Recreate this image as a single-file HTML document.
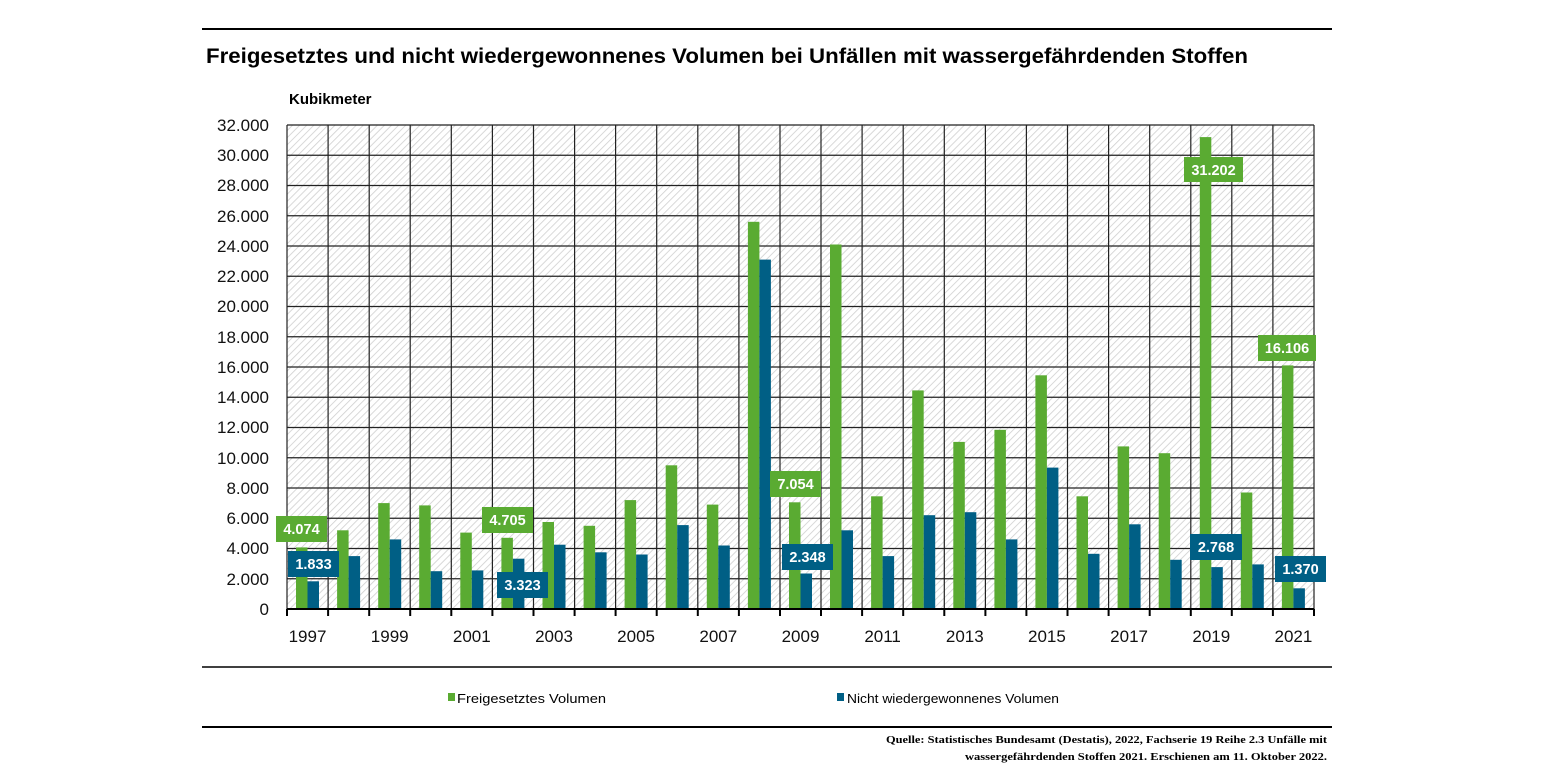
<!DOCTYPE html>
<html><head><meta charset="utf-8"><style>
body{margin:0;background:#fff;width:1545px;height:775px;overflow:hidden}
svg{font-family:"Liberation Sans",sans-serif}
</style></head><body>
<svg width="1545" height="775" viewBox="0 0 1545 775" xmlns="http://www.w3.org/2000/svg">
<defs>
<pattern id="h" patternUnits="userSpaceOnUse" width="5" height="5" patternTransform="rotate(45)">
<rect width="5" height="5" fill="#fff"/><line x1="0" y1="0" x2="0" y2="5" stroke="#cfcfcf" stroke-width="1.6"/>
</pattern>
</defs>
<line x1="202" y1="29" x2="1332" y2="29" stroke="#000" stroke-width="2"/>
<text x="206" y="63" font-size="21" font-weight="bold" textLength="1042" lengthAdjust="spacingAndGlyphs">Freigesetztes und nicht wiedergewonnenes Volumen bei Unfällen mit wassergefährdenden Stoffen</text>
<text x="289" y="104" font-size="15" font-weight="bold">Kubikmeter</text>
<rect x="287" y="125" width="1027" height="484" fill="url(#h)"/>
<g stroke="#222" stroke-width="1.2">
<line x1="287" y1="125" x2="1314" y2="125"/><line x1="287" y1="155.25" x2="1314" y2="155.25"/><line x1="287" y1="185.5" x2="1314" y2="185.5"/><line x1="287" y1="215.75" x2="1314" y2="215.75"/><line x1="287" y1="246" x2="1314" y2="246"/><line x1="287" y1="276.25" x2="1314" y2="276.25"/><line x1="287" y1="306.5" x2="1314" y2="306.5"/><line x1="287" y1="336.75" x2="1314" y2="336.75"/><line x1="287" y1="367" x2="1314" y2="367"/><line x1="287" y1="397.25" x2="1314" y2="397.25"/><line x1="287" y1="427.5" x2="1314" y2="427.5"/><line x1="287" y1="457.75" x2="1314" y2="457.75"/><line x1="287" y1="488" x2="1314" y2="488"/><line x1="287" y1="518.25" x2="1314" y2="518.25"/><line x1="287" y1="548.5" x2="1314" y2="548.5"/><line x1="287" y1="578.75" x2="1314" y2="578.75"/>
<line x1="287" y1="125" x2="287" y2="609"/><line x1="328.1" y1="125" x2="328.1" y2="609"/><line x1="369.2" y1="125" x2="369.2" y2="609"/><line x1="410.2" y1="125" x2="410.2" y2="609"/><line x1="451.3" y1="125" x2="451.3" y2="609"/><line x1="492.4" y1="125" x2="492.4" y2="609"/><line x1="533.5" y1="125" x2="533.5" y2="609"/><line x1="574.6" y1="125" x2="574.6" y2="609"/><line x1="615.6" y1="125" x2="615.6" y2="609"/><line x1="656.7" y1="125" x2="656.7" y2="609"/><line x1="697.8" y1="125" x2="697.8" y2="609"/><line x1="738.9" y1="125" x2="738.9" y2="609"/><line x1="780" y1="125" x2="780" y2="609"/><line x1="821" y1="125" x2="821" y2="609"/><line x1="862.1" y1="125" x2="862.1" y2="609"/><line x1="903.2" y1="125" x2="903.2" y2="609"/><line x1="944.3" y1="125" x2="944.3" y2="609"/><line x1="985.4" y1="125" x2="985.4" y2="609"/><line x1="1026.4" y1="125" x2="1026.4" y2="609"/><line x1="1067.5" y1="125" x2="1067.5" y2="609"/><line x1="1108.6" y1="125" x2="1108.6" y2="609"/><line x1="1149.7" y1="125" x2="1149.7" y2="609"/><line x1="1190.8" y1="125" x2="1190.8" y2="609"/><line x1="1231.8" y1="125" x2="1231.8" y2="609"/><line x1="1272.9" y1="125" x2="1272.9" y2="609"/><line x1="1314" y1="125" x2="1314" y2="609"/>
</g>
<g transform="translate(0,609) scale(1,-1)" fill="#5aab32">
<rect x="296" y="0" width="11.5" height="61.6"/><rect x="337.1" y="0" width="11.5" height="78.7"/><rect x="378.2" y="0" width="11.5" height="105.9"/><rect x="419.2" y="0" width="11.5" height="103.6"/><rect x="460.3" y="0" width="11.5" height="76.4"/><rect x="501.4" y="0" width="11.5" height="71.2"/><rect x="542.5" y="0" width="11.5" height="87"/><rect x="583.6" y="0" width="11.5" height="83.2"/><rect x="624.6" y="0" width="11.5" height="108.9"/><rect x="665.7" y="0" width="11.5" height="143.7"/><rect x="706.8" y="0" width="11.5" height="104.4"/><rect x="747.9" y="0" width="11.5" height="387.2"/><rect x="789" y="0" width="11.5" height="106.7"/><rect x="830" y="0" width="11.5" height="364.5"/><rect x="871.1" y="0" width="11.5" height="112.7"/><rect x="912.2" y="0" width="11.5" height="218.6"/><rect x="953.3" y="0" width="11.5" height="167.1"/><rect x="994.4" y="0" width="11.5" height="179.2"/><rect x="1035.4" y="0" width="11.5" height="233.7"/><rect x="1076.5" y="0" width="11.5" height="112.7"/><rect x="1117.6" y="0" width="11.5" height="162.6"/><rect x="1158.7" y="0" width="11.5" height="155.8"/><rect x="1199.8" y="0" width="11.5" height="471.9"/><rect x="1240.8" y="0" width="11.5" height="116.5"/><rect x="1281.9" y="0" width="11.5" height="243.6"/>
</g>
<g transform="translate(0,609) scale(1,-1)" fill="#005f85">
<rect x="307.5" y="0" width="11.5" height="27.7"/><rect x="348.6" y="0" width="11.5" height="52.9"/><rect x="389.7" y="0" width="11.5" height="69.6"/><rect x="430.7" y="0" width="11.5" height="37.8"/><rect x="471.8" y="0" width="11.5" height="38.6"/><rect x="512.9" y="0" width="11.5" height="50.3"/><rect x="554" y="0" width="11.5" height="64.3"/><rect x="595.1" y="0" width="11.5" height="56.7"/><rect x="636.1" y="0" width="11.5" height="54.5"/><rect x="677.2" y="0" width="11.5" height="83.9"/><rect x="718.3" y="0" width="11.5" height="63.5"/><rect x="759.4" y="0" width="11.5" height="349.4"/><rect x="800.5" y="0" width="11.5" height="35.5"/><rect x="841.5" y="0" width="11.5" height="78.7"/><rect x="882.6" y="0" width="11.5" height="52.9"/><rect x="923.7" y="0" width="11.5" height="93.8"/><rect x="964.8" y="0" width="11.5" height="96.8"/><rect x="1005.9" y="0" width="11.5" height="69.6"/><rect x="1046.9" y="0" width="11.5" height="141.4"/><rect x="1088" y="0" width="11.5" height="55.2"/><rect x="1129.1" y="0" width="11.5" height="84.7"/><rect x="1170.2" y="0" width="11.5" height="49.2"/><rect x="1211.3" y="0" width="11.5" height="41.9"/><rect x="1252.3" y="0" width="11.5" height="44.6"/><rect x="1293.4" y="0" width="11.5" height="20.7"/>
</g>
<line x1="287" y1="609" x2="1314" y2="609" stroke="#000" stroke-width="2"/>
<g stroke="#000" stroke-width="2">
<line x1="287" y1="609" x2="287" y2="616"/><line x1="328.1" y1="609" x2="328.1" y2="616"/><line x1="369.2" y1="609" x2="369.2" y2="616"/><line x1="410.2" y1="609" x2="410.2" y2="616"/><line x1="451.3" y1="609" x2="451.3" y2="616"/><line x1="492.4" y1="609" x2="492.4" y2="616"/><line x1="533.5" y1="609" x2="533.5" y2="616"/><line x1="574.6" y1="609" x2="574.6" y2="616"/><line x1="615.6" y1="609" x2="615.6" y2="616"/><line x1="656.7" y1="609" x2="656.7" y2="616"/><line x1="697.8" y1="609" x2="697.8" y2="616"/><line x1="738.9" y1="609" x2="738.9" y2="616"/><line x1="780" y1="609" x2="780" y2="616"/><line x1="821" y1="609" x2="821" y2="616"/><line x1="862.1" y1="609" x2="862.1" y2="616"/><line x1="903.2" y1="609" x2="903.2" y2="616"/><line x1="944.3" y1="609" x2="944.3" y2="616"/><line x1="985.4" y1="609" x2="985.4" y2="616"/><line x1="1026.4" y1="609" x2="1026.4" y2="616"/><line x1="1067.5" y1="609" x2="1067.5" y2="616"/><line x1="1108.6" y1="609" x2="1108.6" y2="616"/><line x1="1149.7" y1="609" x2="1149.7" y2="616"/><line x1="1190.8" y1="609" x2="1190.8" y2="616"/><line x1="1231.8" y1="609" x2="1231.8" y2="616"/><line x1="1272.9" y1="609" x2="1272.9" y2="616"/><line x1="1314" y1="609" x2="1314" y2="616"/>
</g>
<g font-size="17" text-anchor="end" fill="#111">
<text x="269" y="131">32.000</text><text x="269" y="161">30.000</text><text x="269" y="191">28.000</text><text x="269" y="222">26.000</text><text x="269" y="252">24.000</text><text x="269" y="282">22.000</text><text x="269" y="312">20.000</text><text x="269" y="343">18.000</text><text x="269" y="373">16.000</text><text x="269" y="403">14.000</text><text x="269" y="433">12.000</text><text x="269" y="464">10.000</text><text x="269" y="494">8.000</text><text x="269" y="524">6.000</text><text x="269" y="554">4.000</text><text x="269" y="585">2.000</text><text x="269" y="615">0</text>
</g>
<g font-size="17" text-anchor="middle" fill="#111">
<text x="307.5" y="642">1997</text><text x="389.7" y="642">1999</text><text x="471.8" y="642">2001</text><text x="554" y="642">2003</text><text x="636.1" y="642">2005</text><text x="718.3" y="642">2007</text><text x="800.5" y="642">2009</text><text x="882.6" y="642">2011</text><text x="964.8" y="642">2013</text><text x="1046.9" y="642">2015</text><text x="1129.1" y="642">2017</text><text x="1211.3" y="642">2019</text><text x="1293.4" y="642">2021</text>
</g>
<g font-size="14.5" font-weight="bold" fill="#fff" text-anchor="middle">
<rect x="276" y="516" width="51" height="26" fill="#5aab32"/><text x="301.5" y="534">4.074</text>
<rect x="288" y="551" width="51" height="26" fill="#005f85"/><text x="313.5" y="569">1.833</text>
<rect x="482" y="507" width="51" height="26" fill="#5aab32"/><text x="507.5" y="525">4.705</text>
<rect x="497" y="572" width="51" height="26" fill="#005f85"/><text x="522.5" y="590">3.323</text>
<rect x="770" y="471" width="51" height="26" fill="#5aab32"/><text x="795.5" y="489">7.054</text>
<rect x="782" y="544" width="51" height="26" fill="#005f85"/><text x="807.5" y="562">2.348</text>
<rect x="1184" y="157" width="59" height="25" fill="#5aab32"/><text x="1213.5" y="175">31.202</text>
<rect x="1258" y="335" width="58" height="26" fill="#5aab32"/><text x="1287" y="353">16.106</text>
<rect x="1190" y="534" width="52" height="26" fill="#005f85"/><text x="1216" y="552">2.768</text>
<rect x="1275" y="556" width="51" height="26" fill="#005f85"/><text x="1300.5" y="574">1.370</text>
</g>
<line x1="202" y1="667" x2="1332" y2="667" stroke="#000" stroke-width="1.5"/>
<rect x="448" y="693" width="7" height="8" fill="#5aab32"/>
<text x="457" y="703" font-size="13" textLength="149" lengthAdjust="spacingAndGlyphs">Freigesetztes Volumen</text>
<rect x="837" y="693" width="7" height="8" fill="#005f85"/>
<text x="847" y="703" font-size="13" textLength="212" lengthAdjust="spacingAndGlyphs">Nicht wiedergewonnenes Volumen</text>
<line x1="202" y1="727" x2="1332" y2="727" stroke="#000" stroke-width="2"/>
<g font-size="11" font-family="Liberation Serif, serif" font-weight="bold">
<text x="886" y="743" textLength="441" lengthAdjust="spacingAndGlyphs">Quelle: Statistisches Bundesamt (Destatis), 2022, Fachserie 19 Reihe 2.3 Unfälle mit</text>
<text x="965" y="760" textLength="362" lengthAdjust="spacingAndGlyphs">wassergefährdenden Stoffen 2021. Erschienen am 11. Oktober 2022.</text>
</g>
</svg>
</body></html>
